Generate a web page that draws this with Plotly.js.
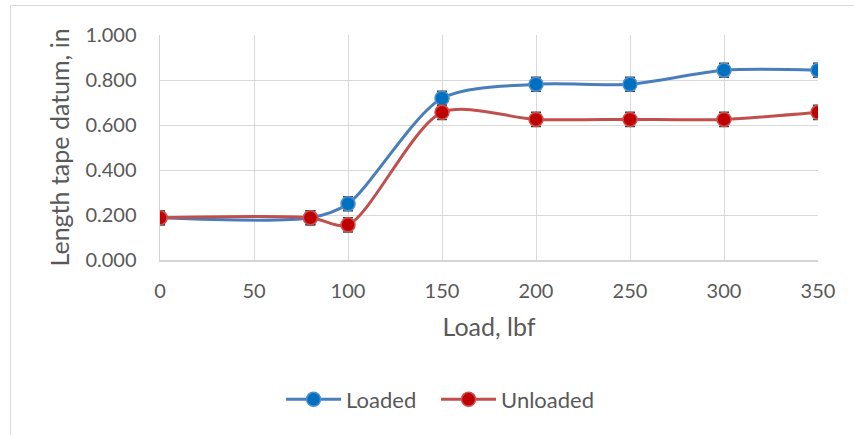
<!DOCTYPE html>
<html>
<head>
<meta charset="utf-8">
<script src="https://cdn.plot.ly/plotly-3.0.1.min.js"></script>
<style>
  html, body { margin: 0; padding: 0; background: #ffffff; }
  #frame { position: absolute; left: 10px; top: 5px; width: 860px; height: 440px;
           border-left: 1px solid #d9d9d9; border-top: 1px solid #d9d9d9; }
  #chart { position: absolute; left: 0; top: 0; width: 854px; height: 435px; }
</style>
</head>
<body>
<div id="frame"></div>
<div id="chart"></div>
<script>
// Data
const loads = [0, 80, 100, 150, 200, 250, 300, 350];
const loadedValues = [0.1875, 0.1875, 0.25, 0.71875, 0.78125, 0.78125, 0.84375, 0.84375];
const unloadedValues = [0.1875, 0.1875, 0.15625, 0.65625, 0.625, 0.625, 0.625, 0.65625];
const errorAmount = 0.03125;
const seriesNames = ['Loaded', 'Unloaded'];
const xTickValues = [0, 50, 100, 150, 200, 250, 300, 350];
const yTickValues = [0, 0.2, 0.4, 0.6, 0.8, 1.0];
const xTitle = 'Load, lbf';
const yTitle = 'Length tape datum, in';

const FONT = 'Lato, "Open Sans", sans-serif';
const TXT = '#595959';

function series(name, y, lineColor, fillColor, outline, legendId) {
  return {
    type: 'scatter', mode: 'lines+markers', name: name, legend: legendId,
    x: loads, y: y,
    line: { color: lineColor, width: 3, shape: 'spline', smoothing: 0.8 },
    marker: { size: 14, color: fillColor, line: { color: outline, width: 1.5 } },
    error_y: { type: 'constant', value: errorAmount, color: '#404040', thickness: 1.5, width: 5 }
  };
}

const data = [
  series(seriesNames[0], loadedValues, '#4a7ebb', '#0070c0', '#4f8fd0', 'legend'),
  series(seriesNames[1], unloadedValues, '#c0504d', '#c00000', '#d05050', 'legend2')
];

function legendAt(x) {
  return {
    orientation: 'h', x: x, xanchor: 'left', y: -0.62, yanchor: 'middle',
    itemwidth: 55, bgcolor: 'rgba(0,0,0,0)',
    font: { family: FONT, size: 22, color: TXT }
  };
}

const layout = {
  width: 854, height: 435,
  margin: { l: 160, r: 36, t: 35, b: 175 },
  paper_bgcolor: 'rgba(0,0,0,0)',
  plot_bgcolor: '#ffffff',
  font: { family: FONT, size: 20, color: TXT },
  showlegend: true,
  legend: legendAt(0.184),
  legend2: legendAt(0.4195),
  xaxis: {
    range: [0, 350], tickvals: xTickValues, ticktext: xTickValues.map(String),
    showgrid: true, gridcolor: '#d9d9d9', gridwidth: 1,
    showline: true, linecolor: '#d4d4d4', linewidth: 1.5,
    zeroline: false, ticks: 'outside', ticklen: 12, tickcolor: 'rgba(0,0,0,0)',
    tickfont: { family: FONT, size: 20, color: TXT },
    title: { text: xTitle, font: { family: FONT, size: 25, color: TXT }, standoff: 18 }
  },
  yaxis: {
    range: [0, 1], tickvals: yTickValues, ticktext: yTickValues.map(v => v.toFixed(3)),
    showgrid: true, gridcolor: '#d9d9d9', gridwidth: 1,
    showline: true, linecolor: '#d4d4d4', linewidth: 1.5,
    zeroline: false, ticks: 'outside', ticklen: 18, tickcolor: 'rgba(0,0,0,0)',
    tickfont: { family: FONT, size: 20, color: TXT }
  },
  annotations: [{
    text: yTitle, xref: 'paper', yref: 'paper', x: (58 - 160) / 658, y: 0.5,
    xanchor: 'center', yanchor: 'middle', textangle: -90, showarrow: false,
    font: { family: FONT, size: 25, color: TXT }
  }]
};

Plotly.newPlot('chart', data, layout, { displayModeBar: false, staticPlot: true });
</script>
</body>
</html>
